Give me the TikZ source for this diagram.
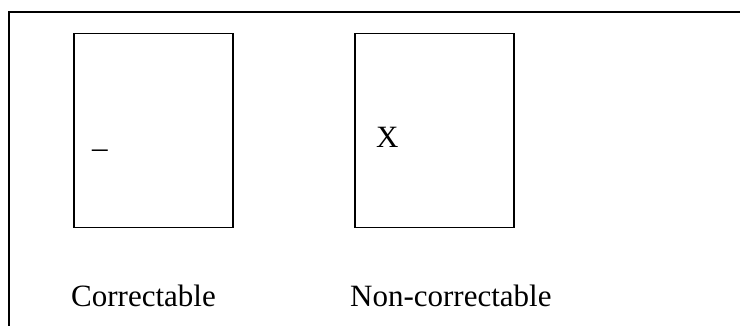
\documentclass[tikz,border=0pt]{standalone}
\usepackage{fontspec}
\setmainfont{Liberation Serif}
\begin{document}
\begin{tikzpicture}[x=1pt,y=-1pt,
  frameline/.style={line width=2pt,line cap=rect},
  cardbox/.style={draw,line width=1.6pt,minimum width=159pt,minimum height=194pt,anchor=north west,inner sep=0pt},
  txt/.style={font=\fontsize{31}{36}\selectfont,inner sep=0pt,anchor=base west}]
\useasboundingbox (0,0) rectangle (740,325);
\coordinate (fbl) at (9,325);
\coordinate (ftl) at (9,12);
\coordinate (ftr) at (740,12);
\draw[frameline] (fbl) -- (ftl) -- (ftr);
\node[cardbox] (boxa) at (73,32.5) {};
\node[cardbox] (boxb) at (354,32.5) {};
\node[txt] (marka) at (92,147) {\_};
\node[txt] (markb) at (376,147) {X};
\node[txt] (laba) at (71,306) {Correctable};
\node[txt] (labb) at (350,306) {Non-correctable};
\end{tikzpicture}
\end{document}
